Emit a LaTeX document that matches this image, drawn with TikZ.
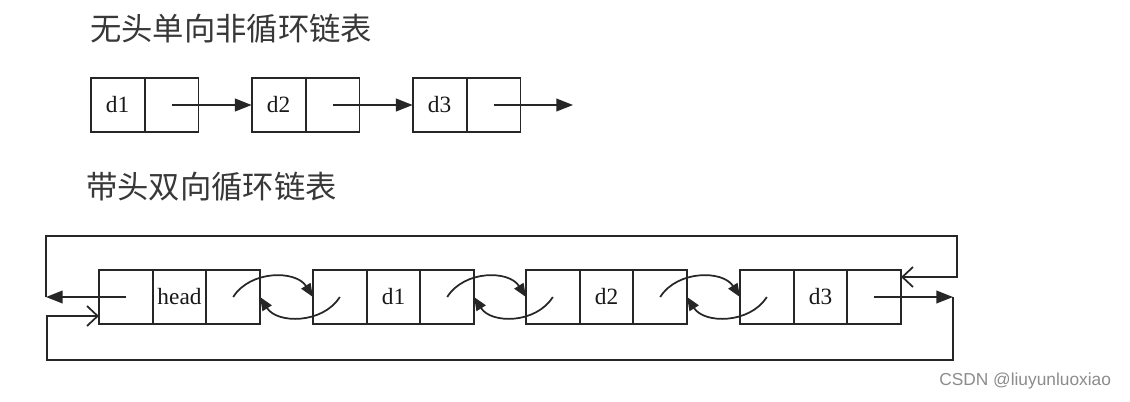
\documentclass[tikz,border=0pt]{standalone}
\usepackage{fontspec}
\setmainfont{Liberation Serif}
\newfontfamily\cjkfont{Noto Sans CJK SC}
\newfontfamily\wmfont{Liberation Sans}
\usetikzlibrary{arrows.meta,calc}
\begin{document}
\begin{tikzpicture}[x=0.75pt,y=-0.75pt,
  ln/.style={draw=black!85, line width=1.3pt},
  cell/.style={ln, rectangle, minimum width=40.3pt, minimum height=40.5pt, inner sep=0pt, outer sep=0pt, font=\fontsize{17.5}{17.5}\selectfont, text=black!90},
  fa/.style={-{Triangle[length=12.5pt,width=9.5pt]}},
  ca/.style={-{Triangle[length=10pt,width=8pt]}},
  oa/.style={-{Straight Barb[length=8pt,width=15pt]}},
  title/.style={anchor=west, inner sep=0pt, font=\cjkfont\fontsize{23.5}{23.5}\selectfont, text=black!78},
]
\useasboundingbox[fill=white] (0,0) rectangle (1130,401);

% titles
\node[title] (t1) at (90,28.5) {无头单向非循环链表};
\node[title] (t2) at (86,186.5) {带头双向循环链表};

% top list
\node[cell] (a1) at (117.5,105) {d1};
\node[cell] (a2) at (171.5,105) {};
\node[cell] (b1) at (278.5,105) {d2};
\node[cell] (b2) at (332.5,105) {};
\node[cell] (c1) at (439.5,105) {d3};
\node[cell] (c2) at (493.5,105) {};
\coordinate (aend) at (573,105);
\draw[ln,fa] (a2.center) -- (b1.west);
\draw[ln,fa] (b2.center) -- (c1.west);
\draw[ln,fa] (c2.center) -- (aend);

% bottom list
\node[cell] (h1) at (125.8,297) {};
\node[cell] (h2) at (179.5,297) {head};
\node[cell] (h3) at (233.2,297) {};
\node[cell] (p1) at (339.8,297) {};
\node[cell] (p2) at (393.5,297) {d1};
\node[cell] (p3) at (447.2,297) {};
\node[cell] (q1) at (552.8,297) {};
\node[cell] (q2) at (606.5,297) {d2};
\node[cell] (q3) at (660.2,297) {};
\node[cell] (r1) at (766.8,297) {};
\node[cell] (r2) at (820.5,297) {d3};
\node[cell] (r3) at (874.2,297) {};

% double links
\foreach \X/\Y in {h3/p1, p3/q1, q3/r1} {
  \draw[ln,ca] (\X.center) .. controls ($(\X.center)+(17,-27)$) and ($(\Y.west)+(-17,-27)$) .. (\Y.west);
  \draw[ln,ca] (\Y.center) .. controls ($(\Y.center)+(-17,27)$) and ($(\X.east)+(17,27)$) .. (\X.east);
}

% circular links
\coordinate (L1) at (46,297);
\coordinate (TL) at (46,236);
\coordinate (TR) at (957,236);
\coordinate (RT) at (957,277);
\draw[ln,fa] (h1.center) -- (L1);
\draw[ln,oa] (L1) -- (TL) -- (TR) -- (RT) -- (RT -| r3.east);
\coordinate (R2) at (953,297);
\coordinate (BR) at (953,360);
\coordinate (BL) at (47,360);
\coordinate (LB) at (47,316);
\draw[ln,fa] (r3.center) -- (R2);
\draw[ln,oa] (R2) -- (BR) -- (BL) -- (LB) -- (LB -| h1.west);

% watermark
\node[anchor=base west, inner sep=0pt, font=\wmfont\fontsize{13}{13}\selectfont, text=black!45] (wm) at (939,385) {CSDN @liuyunluoxiao};
\end{tikzpicture}
\end{document}
